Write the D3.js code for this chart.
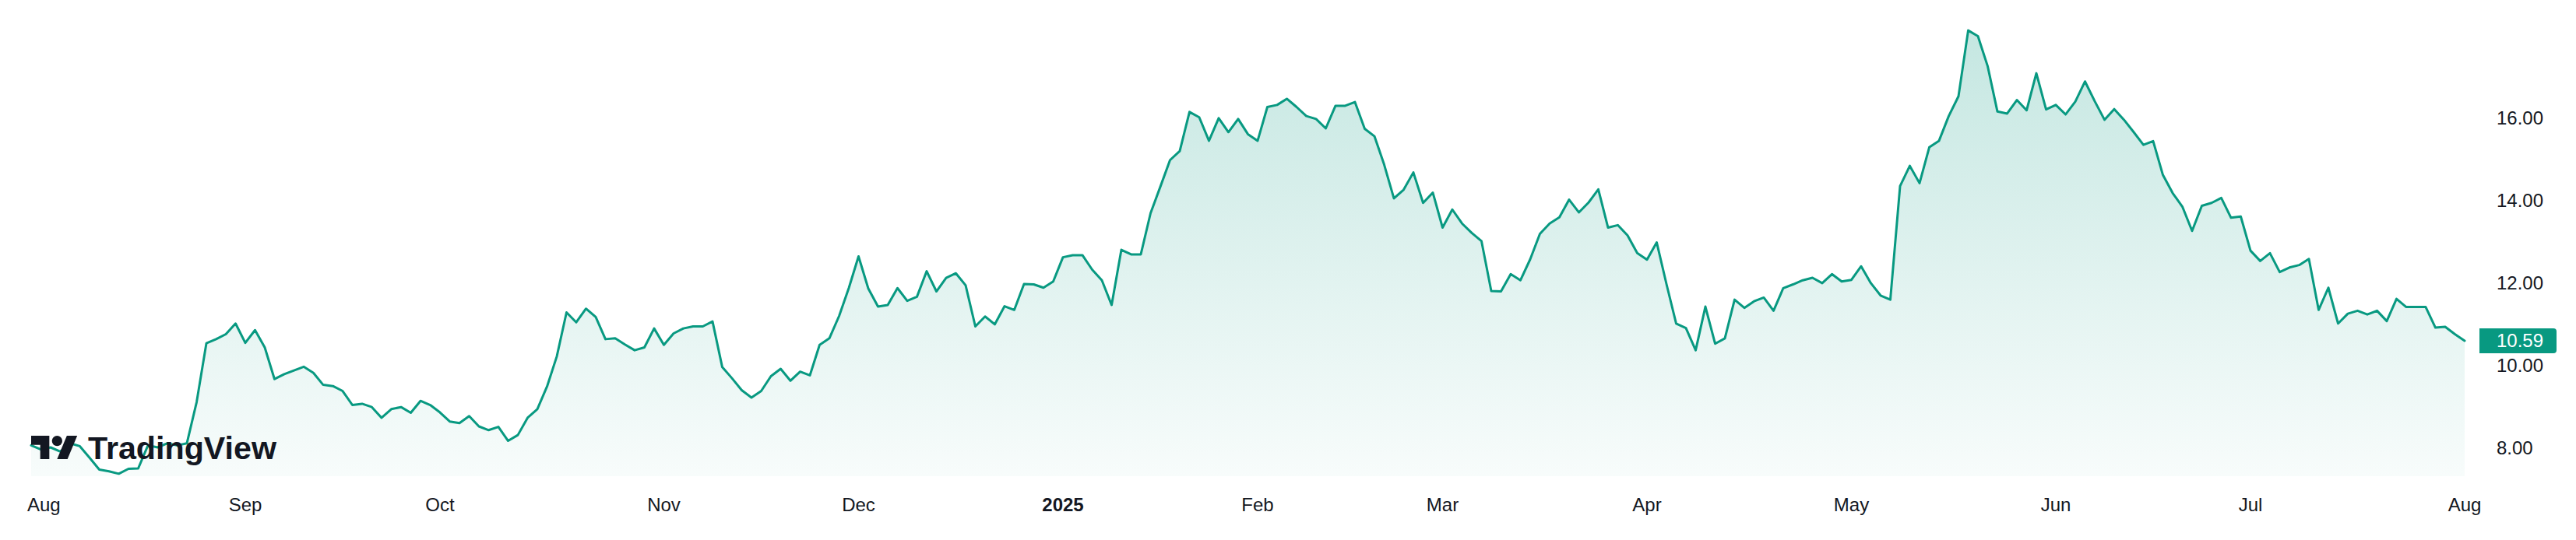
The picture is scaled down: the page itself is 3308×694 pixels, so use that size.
<!DOCTYPE html>
<html>
<head>
<meta charset="utf-8">
<script src="https://cdn.jsdelivr.net/npm/d3@7.9.0/dist/d3.min.js"></script>
<style>
  html, body { margin: 0; padding: 0; background: #fff; }
  svg { display: block; }
  .tick-label { font-family: "Liberation Sans", Arial, sans-serif; font-size: 24px; fill: #131722; }
</style>
</head>
<body>
<div id="chart"></div>
<script>
// daily closes, one per US trading day, Aug 1 2024 .. Aug 1 2025
const prices = [
  8.05, 7.95, 8.00, 7.90, 8.10, 8.03, 7.75, 7.46, 7.42, 7.36,
  7.48, 7.49, 8.05, 8.00, 8.10, 8.05, 8.10, 9.10, 10.53, 10.63,
  10.75, 11.01, 10.54, 10.85, 10.43, 9.66, 9.78, 9.87, 9.96, 9.81,
  9.52, 9.49, 9.37, 9.03, 9.06, 8.98, 8.72, 8.93, 8.98, 8.84,
  9.13, 9.03, 8.85, 8.63, 8.59, 8.76, 8.51, 8.42, 8.50, 8.16,
  8.30, 8.72, 8.93, 9.48, 10.21, 11.28, 11.04, 11.37, 11.17, 10.63,
  10.65, 10.50, 10.36, 10.43, 10.89, 10.49, 10.77, 10.89, 10.94, 10.94,
  11.06, 9.95, 9.68, 9.39, 9.21, 9.37, 9.73, 9.91, 9.62, 9.84,
  9.75, 10.49, 10.65, 11.19, 11.87, 12.64, 11.86, 11.42, 11.46, 11.87,
  11.56, 11.66, 12.28, 11.79, 12.12, 12.23, 11.94, 10.94, 11.18, 10.99,
  11.43, 11.34, 11.97, 11.96, 11.88, 12.03, 12.62, 12.67, 12.67, 12.32,
  12.06, 11.46, 12.80, 12.69, 12.69, 13.69, 14.33, 14.98, 15.20, 16.15,
  16.02, 15.45, 16.00, 15.66, 15.98, 15.61, 15.45, 16.27, 16.32, 16.47,
  16.27, 16.05, 15.98, 15.75, 16.30, 16.30, 16.39, 15.74, 15.56, 14.87,
  14.05, 14.26, 14.68, 13.94, 14.19, 13.34, 13.78, 13.44, 13.21, 13.01,
  11.80, 11.79, 12.21, 12.06, 12.57, 13.19, 13.44, 13.59, 14.02, 13.71,
  13.95, 14.27, 13.34, 13.40, 13.15, 12.72, 12.56, 12.98, 11.97, 11.01,
  10.90, 10.36, 11.42, 10.52, 10.65, 11.59, 11.39, 11.55, 11.64, 11.32,
  11.87, 11.96, 12.06, 12.12, 11.99, 12.21, 12.03, 12.07, 12.40, 11.99,
  11.69, 11.59, 14.35, 14.84, 14.42, 15.29, 15.45, 16.05, 16.53, 18.13,
  17.99, 17.26, 16.16, 16.11, 16.44, 16.19, 17.09, 16.21, 16.32, 16.09,
  16.40, 16.89, 16.41, 15.96, 16.22, 15.96, 15.66, 15.35, 15.44, 14.62,
  14.18, 13.85, 13.26, 13.87, 13.94, 14.06, 13.58, 13.61, 12.78, 12.53,
  12.72, 12.26, 12.37, 12.43, 12.58, 11.34, 11.88, 11.01, 11.25, 11.32,
  11.23, 11.32, 11.07, 11.61, 11.41, 11.41, 11.41, 10.91, 10.93, 10.75,
  10.59
];

// first trading day of each month, as bar index
const monthLabels = ['Aug', 'Sep', 'Oct', 'Nov', 'Dec', '2025', 'Feb', 'Mar', 'Apr', 'May', 'Jun', 'Jul', 'Aug'];
const monthBars   = [0, 22, 42, 65, 85, 106, 126, 145, 166, 187, 208, 228, 250];

const yTicks = [8, 10, 12, 14, 16];
const lastPrice = 10.59;

const W = 3308, H = 694;
const paneBottom = 612;
const lineColor = '#089981';

const svg = d3.select('#chart').append('svg')
  .attr('width', W)
  .attr('height', H)
  .attr('viewBox', `0 0 ${W} ${H}`);

const x = d3.scaleLinear().domain([0, prices.length - 1]).range([40, 3165]);
const y = d3.scaleLinear().domain([10, 16]).range([469.2, 151.8]);

// area fill gradient
const defs = svg.append('defs');
const grad = defs.append('linearGradient')
  .attr('id', 'areaFill')
  .attr('gradientUnits', 'userSpaceOnUse')
  .attr('x1', 0).attr('y1', 0).attr('x2', 0).attr('y2', paneBottom);
grad.append('stop').attr('offset', 0).attr('stop-color', lineColor).attr('stop-opacity', 0.25);
grad.append('stop').attr('offset', 1).attr('stop-color', lineColor).attr('stop-opacity', 0.03);

const area = d3.area()
  .x((d, i) => x(i))
  .y0(paneBottom)
  .y1(d => y(d));

const line = d3.line()
  .x((d, i) => x(i))
  .y(d => y(d));

svg.append('path')
  .datum(prices)
  .attr('d', area)
  .attr('fill', 'url(#areaFill)');

svg.append('path')
  .datum(prices)
  .attr('d', line)
  .attr('fill', 'none')
  .attr('stroke', lineColor)
  .attr('stroke-width', 3)
  .attr('stroke-linejoin', 'round')
  .attr('stroke-linecap', 'round');

// y axis labels (right side)
const yAxis = svg.append('g');
yTicks.forEach(v => {
  yAxis.append('text')
    .attr('class', 'tick-label')
    .attr('x', 3206)
    .attr('y', y(v))
    .attr('dominant-baseline', 'central')
    .text(v.toFixed(2));
});

// last price badge
const by = y(lastPrice);
const bx0 = 3184, bx1 = 3283, bh = 32, r = 4;
svg.append('path')
  .attr('d', `M${bx0},${by - bh / 2} H${bx1 - r} Q${bx1},${by - bh / 2} ${bx1},${by - bh / 2 + r}
              V${by + bh / 2 - r} Q${bx1},${by + bh / 2} ${bx1 - r},${by + bh / 2} H${bx0} Z`)
  .attr('fill', lineColor);
svg.append('text')
  .attr('class', 'tick-label')
  .attr('x', 3206)
  .attr('y', by)
  .attr('dominant-baseline', 'central')
  .style('fill', '#fff')
  .text(lastPrice.toFixed(2));

// x axis month labels
const xAxis = svg.append('g');
monthLabels.forEach((lab, k) => {
  const t = xAxis.append('text')
    .attr('class', 'tick-label')
    .attr('x', x(monthBars[k]))
    .attr('y', 657)
    .attr('text-anchor', 'middle')
    .style('font-weight', lab === '2025' ? 'bold' : null)
    .text(lab);
  // keep the first label inside the left margin
  const w = t.node().getComputedTextLength();
  if (x(monthBars[k]) - w / 2 < 35) t.attr('x', 35 + w / 2);
});

// TradingView logo, bottom left
const logo = svg.append('g');
logo.append('g')
  .attr('transform', 'translate(40,553.3) scale(1.667)')
  .call(g => {
    g.append('path').attr('d', 'M14 22H7V11H0V4h14v18zM28 22h-8l7.5-18h8L28 22z').attr('fill', '#131722');
    g.append('circle').attr('cx', 20).attr('cy', 8).attr('r', 4).attr('fill', '#131722');
  });
logo.append('text')
  .attr('x', 113)
  .attr('y', 590)
  .attr('textLength', 242)
  .attr('lengthAdjust', 'spacingAndGlyphs')
  .style('font-family', '"Liberation Sans", Arial, sans-serif')
  .style('font-weight', 'bold')
  .style('font-size', '41px')
  .style('fill', '#131722')
  .text('TradingView');
</script>
</body>
</html>
